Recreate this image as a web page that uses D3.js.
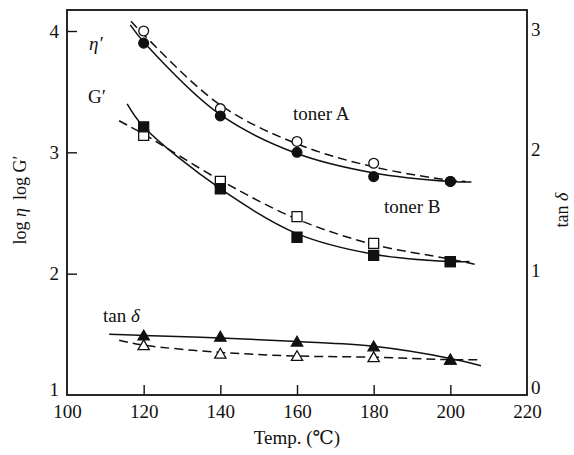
<!DOCTYPE html>
<html>
<head>
<meta charset="utf-8">
<script src="https://cdn.jsdelivr.net/npm/d3@7"></script>
<style>
  body { margin: 0; background: #fff; }
  svg text { font-family: "Liberation Serif", "DejaVu Serif", serif; fill: #111; }
</style>
</head>
<body>
<svg id="chart" width="574" height="455"></svg>
<script>
'use strict';

// measured temperatures
var temps = [120, 140, 160, 180, 200];

// toner A (filled) / toner B (open) marker values
var etaA  = [3.90, 3.30, 3.00, 2.80, 2.76];
var etaB  = [4.00, 3.36, 3.09, 2.91, 2.76];
var gA    = [3.21, 2.70, 2.30, 2.15, 2.10];
var gB    = [3.14, 2.76, 2.47, 2.25, 2.10];
var tanA  = [0.45, 0.44, 0.40, 0.36, 0.25];
var tanB  = [0.37, 0.30, 0.28, 0.27, 0.25];

// fitted curves
var fitEtaA_t = [116.5, 120, 140, 160, 180, 200, 205.5];
var fitEtaA   = [4.05, 3.91, 3.31, 2.99, 2.83, 2.76, 2.755];
var fitEtaB_t = [116.7, 120, 140, 160, 180, 200, 204];
var fitEtaB   = [4.08, 3.97, 3.39, 3.07, 2.88, 2.77, 2.76];
var fitGA_t   = [115.7, 120, 140, 160, 180, 200, 205];
var fitGA     = [3.40, 3.21, 2.70, 2.33, 2.16, 2.10, 2.10];
var fitGB_t   = [113.6, 120, 140, 160, 180, 200, 207.5];
var fitGB     = [3.26, 3.15, 2.77, 2.45, 2.24, 2.12, 2.07];
var fitTanA_t = [111, 120, 140, 160, 180, 200, 208];
var fitTanA   = [0.47, 0.46, 0.44, 0.41, 0.37, 0.27, 0.21];
var fitTanB_t = [113.6, 120, 140, 160, 180, 200, 208];
var fitTanB   = [0.42, 0.38, 0.32, 0.29, 0.28, 0.26, 0.26];

var xTicks      = [100, 120, 140, 160, 180, 200, 220];
var yLeftTicks  = [1, 2, 3, 4];
var yRightTicks = [0, 1, 2, 3];

var svg = d3.select('#chart');
var pLeft = 67, pRight = 527, pTop = 10, pBottom = 395;
var serif = '"Liberation Serif", "DejaVu Serif", serif';

var x  = d3.scaleLinear().domain([100, 220]).range([pLeft, pRight]);
var yL = d3.scaleLinear().domain([1, 4]).range([pBottom, 31]);
var yR = d3.scaleLinear().domain([0, 3]).range([391, 29]);
var fmt = d3.format('d');

function zip(t, v) { return t.map(function (d, i) { return [d, v[i]]; }); }

// frame
svg.append('rect')
  .attr('x', pLeft).attr('y', pTop)
  .attr('width', pRight - pLeft).attr('height', pBottom - pTop)
  .attr('fill', 'none').attr('stroke', '#111').attr('stroke-width', 1.8);

// axes, ticks pointing inward
var gx = svg.append('g').attr('transform', 'translate(0,' + pBottom + ')')
  .call(d3.axisTop(x).tickValues(xTicks.slice(1, -1)).tickSize(10).tickFormat(''));
var gxl = svg.append('g').attr('transform', 'translate(0,' + pBottom + ')')
  .call(d3.axisBottom(x).tickValues(xTicks).tickFormat(fmt).tickSize(0).tickPadding(10));
var gy = svg.append('g').attr('transform', 'translate(' + pLeft + ',0)')
  .call(d3.axisRight(yL).tickValues(yLeftTicks.slice(1)).tickSize(10).tickFormat(''));
var gyl = svg.append('g').attr('transform', 'translate(' + pLeft + ',0)')
  .call(d3.axisLeft(yL).tickValues(yLeftTicks).tickFormat(fmt).tickSize(0).tickPadding(8));
var gyr = svg.append('g').attr('transform', 'translate(' + pRight + ',0)')
  .call(d3.axisRight(yR).tickValues(yRightTicks).tickFormat(fmt).tickSize(0).tickPadding(4));

[gx, gxl, gy, gyl, gyr].forEach(function (g) {
  g.attr('font-family', serif).attr('font-size', 19);
  g.select('.domain').remove();
  g.selectAll('line').attr('stroke', '#111').attr('stroke-width', 1.4);
  g.selectAll('text').attr('fill', '#111');
});
// lowest labels of the y axes sit just above the corner
gyl.selectAll('text').filter(function (d) { return d === 1; }).attr('y', -6);
gyr.selectAll('text').filter(function (d) { return d === 0; }).attr('y', -4);

// curves
var line = d3.line().curve(d3.curveCatmullRom.alpha(0.5));
function drawLine(t, v, ys, dashed) {
  svg.append('path')
    .datum(zip(t, v).map(function (d) { return [x(d[0]), ys(d[1])]; }))
    .attr('d', line)
    .attr('fill', 'none').attr('stroke', '#111')
    .attr('stroke-width', 1.5)
    .attr('stroke-dasharray', dashed ? '9,5' : null);
}
drawLine(fitEtaA_t, fitEtaA, yL, false);
drawLine(fitEtaB_t, fitEtaB, yL, true);
drawLine(fitGA_t, fitGA, yL, false);
drawLine(fitGB_t, fitGB, yL, true);
drawLine(fitTanA_t, fitTanA, yR, false);
drawLine(fitTanB_t, fitTanB, yR, true);

// markers
function drawMarks(vals, ys, type, filled) {
  var size = type === d3.symbolCircle ? 75 : (type === d3.symbolSquare ? 100 : 55);
  var sym = d3.symbol().type(type).size(size);
  svg.append('g').selectAll('path').data(zip(temps, vals)).enter().append('path')
    .attr('transform', function (d) { return 'translate(' + x(d[0]) + ',' + ys(d[1]) + ')'; })
    .attr('d', sym)
    .attr('fill', filled ? '#111' : '#fff')
    .attr('stroke', '#111').attr('stroke-width', 1.3);
}
drawMarks(etaB, yL, d3.symbolCircle, false);
drawMarks(etaA, yL, d3.symbolCircle, true);
drawMarks(gB, yL, d3.symbolSquare, false);
drawMarks(gA, yL, d3.symbolSquare, true);
drawMarks(tanB, yR, d3.symbolTriangle, false);
drawMarks(tanA, yR, d3.symbolTriangle, true);

// annotations
function label(tx, ty, str, size, italic) {
  return svg.append('text').attr('x', tx).attr('y', ty)
    .style('font-size', size + 'px')
    .style('font-style', italic ? 'italic' : 'normal')
    .text(str);
}
label(89, 50, 'η′', 19, true);
label(88, 103, 'G′', 19, false);
label(293, 120, 'toner A', 19, false);
label(384, 213, 'toner B', 19, false);
var td = label(103, 322, 'tan ', 19, false);
td.append('tspan').style('font-style', 'italic').text('δ');

// axis titles
var lt = svg.append('text')
  .attr('transform', 'translate(26,200) rotate(-90)')
  .attr('text-anchor', 'middle')
  .style('font-size', '18px');
lt.append('tspan').text('log ');
lt.append('tspan').style('font-style', 'italic').text('η');
lt.append('tspan').attr('dx', 8).text('log G′');

var rt = svg.append('text')
  .attr('transform', 'translate(568,210) rotate(-90)')
  .attr('text-anchor', 'middle')
  .style('font-size', '18px');
rt.append('tspan').text('tan ');
rt.append('tspan').style('font-style', 'italic').text('δ');

svg.append('text')
  .attr('x', 297).attr('y', 444)
  .attr('text-anchor', 'middle')
  .style('font-size', '19px')
  .text('Temp. (℃)');
</script>
</body>
</html>
